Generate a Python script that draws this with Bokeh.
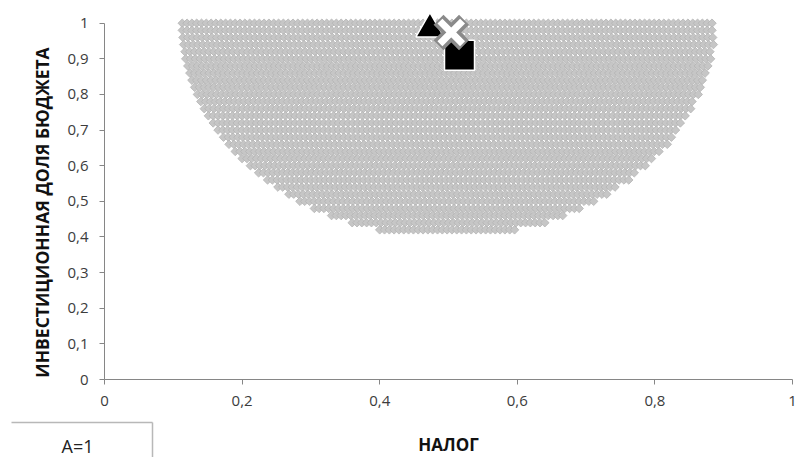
import numpy as np
from bokeh.plotting import figure
from bokeh.models import Range1d, FixedTicker, Label, CustomJSTickFormatter
from bokeh.embed import file_html
from bokeh.resources import INLINE

# Feasible region: one row of points per budget-share level, spanning tax values
row_share = [1.00, 0.98, 0.96, 0.94, 0.92, 0.90, 0.88, 0.86, 0.84, 0.82,
             0.80, 0.78, 0.76, 0.74, 0.72, 0.70, 0.68, 0.66, 0.64, 0.62,
             0.60, 0.58, 0.56, 0.54, 0.52, 0.50, 0.48, 0.46, 0.44, 0.42]
row_tax_min = [0.113, 0.113, 0.114, 0.115, 0.117, 0.118, 0.121, 0.124, 0.127, 0.131,
               0.135, 0.140, 0.145, 0.151, 0.158, 0.165, 0.173, 0.181, 0.190, 0.200,
               0.212, 0.224, 0.237, 0.252, 0.268, 0.284, 0.305, 0.330, 0.360, 0.400]
row_tax_max = [0.887, 0.887, 0.886, 0.885, 0.883, 0.882, 0.879, 0.876, 0.873, 0.869,
               0.865, 0.860, 0.855, 0.849, 0.842, 0.835, 0.827, 0.819, 0.810, 0.800,
               0.788, 0.776, 0.763, 0.748, 0.732, 0.716, 0.695, 0.670, 0.640, 0.602]
tax_step = 0.007

# Highlighted solutions
tri_tax, tri_share = [0.473], [0.984]
sq_tax, sq_share = [0.516], [0.910]
cross_tax, cross_share = [0.504], [0.974]

x_ticks = [0, 0.2, 0.4, 0.6, 0.8, 1.0]
y_ticks = [0, 0.1, 0.2, 0.3, 0.4, 0.5, 0.6, 0.7, 0.8, 0.9, 1.0]

region_x, region_y = [], []
for s, lo, hi in zip(row_share, row_tax_min, row_tax_max):
    xs = np.arange(lo, hi + 1e-9, tax_step)
    region_x.extend(xs.tolist())
    region_y.extend([s] * len(xs))

# The plotting area fills the whole canvas; the axes sit at tax = 0 and share = 0
W, H = 797, 457
x0_px, x1_px = 104, 792          # canvas columns of tax 0 and 1
y0_px, y1_px = 379, 22.7         # canvas rows of share 0 and 1
kx = 1 / (x1_px - x0_px)
ky = 1 / (y0_px - y1_px)


def cx(px):
    return (px - x0_px) * kx


def cy(py):
    return (y0_px - py) * ky


p = figure(width=W, height=H,
           x_range=Range1d(cx(0), cx(W)), y_range=Range1d(cy(H), cy(0)),
           output_backend="svg", toolbar_location=None,
           min_border=0, min_border_left=0, min_border_right=0,
           min_border_top=0, min_border_bottom=0)
p.outline_line_color = None
p.xgrid.visible = False
p.ygrid.visible = False
p.background_fill_color = "white"
p.border_fill_color = "white"

p.scatter(region_x, region_y, marker="square", angle=np.pi / 4, size=6,
          fill_color="#c6c6c6", line_color="#b4b4b4", line_width=0.8)

# Highlighted solutions, drawn larger so they stand out from the region;
# a thin white rim keeps the black shapes apart where they overlap
p.scatter(tri_tax, tri_share, marker="triangle", size=28, fill_color="black",
          line_color="white", line_width=1.5)
p.scatter(sq_tax, sq_share, marker="square", size=30, fill_color="black",
          line_color="white", line_join="round", line_width=1.5)
p.scatter(cross_tax, cross_share, marker="x", size=36, line_color="#8a8a8a", line_width=14)
p.scatter(cross_tax, cross_share, marker="x", size=32, line_color="white", line_width=7)

fmt = CustomJSTickFormatter(code="""
    const s = (Math.round(tick * 10) / 10).toString();
    return s.replace('.', ',');
""")

for ax, ticks in ((p.xaxis[0], x_ticks), (p.yaxis[0], y_ticks)):
    ax.fixed_location = 0
    ax.ticker = FixedTicker(ticks=ticks)
    ax.formatter = fmt
    ax.bounds = (0, 1)
    ax.axis_line_color = "#868686"
    ax.major_tick_line_color = "#868686"
    ax.major_tick_in = 0
    ax.major_tick_out = 5
    ax.minor_tick_line_color = None
    ax.major_label_text_font = "Open Sans"
    ax.major_label_text_font_size = "15px"
    ax.major_label_text_color = "#3c3c3c"
    ax.axis_label_text_font = "Open Sans"
    ax.axis_label_text_font_style = "bold"
    ax.axis_label_text_font_size = "17px"
    ax.axis_label_text_color = "#111111"

p.xaxis.axis_label = "НАЛОГ"
p.xaxis.major_label_standoff = 11
p.xaxis.axis_label_standoff = 24
p.yaxis.major_label_standoff = 11

# Vertical axis title
p.add_layout(Label(x=cx(41), y=cy(212), text="ИНВЕСТИЦИОННАЯ ДОЛЯ БЮДЖЕТА", angle=np.pi / 2,
                   text_align="center", text_baseline="middle",
                   text_font="Open Sans", text_font_style="bold", text_font_size="17.5px",
                   text_color="#111111"))

# Parameter box in the lower-left corner
p.segment(x0=[cx(11), cx(152)], y0=[cy(422), cy(422)],
          x1=[cx(152), cx(152)], y1=[cy(422), cy(470)],
          line_color="#b8b8b8", line_width=1.5)
p.add_layout(Label(x=cx(77), y=cy(445), text="A=1",
                   text_align="center", text_baseline="middle",
                   text_font="Open Sans", text_font_size="18px", text_color="#222222"))

open("out.html", "w").write(file_html(p, INLINE))
